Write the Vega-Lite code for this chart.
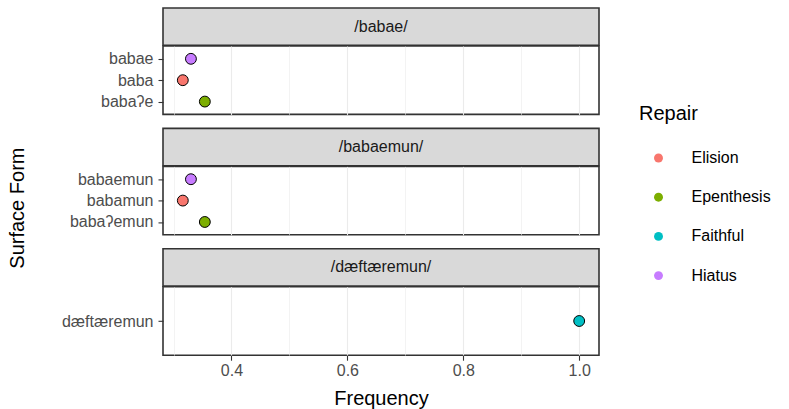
{
  "$schema": "https://vega.github.io/schema/vega-lite/v6.json",
  "background": "white",
  "padding": {"left": 8, "top": 7, "right": 5, "bottom": 5},
  "title": {"text": "Surface Form", "orient": "left", "anchor": "middle", "font": "Liberation Sans", "fontSize": 20, "fontWeight": "normal", "color": "#000000", "offset": 16},
  "datasets": {
    "rows": [
      {"Input": "/babae/", "Surface": "babae", "Repair": "Hiatus", "Frequency": 0.33},
      {"Input": "/babae/", "Surface": "baba", "Repair": "Elision", "Frequency": 0.316},
      {"Input": "/babae/", "Surface": "babaʔe", "Repair": "Epenthesis", "Frequency": 0.354},
      {"Input": "/babaemun/", "Surface": "babaemun", "Repair": "Hiatus", "Frequency": 0.33},
      {"Input": "/babaemun/", "Surface": "babamun", "Repair": "Elision", "Frequency": 0.316},
      {"Input": "/babaemun/", "Surface": "babaʔemun", "Repair": "Epenthesis", "Frequency": 0.354},
      {"Input": "/dæftæremun/", "Surface": "dæftæremun", "Repair": "Faithful", "Frequency": 1.0}
    ]
  },
  "data": {"name": "rows"},
  "spacing": 11.4,
  "vconcat": [
    {
      "spacing": 0,
      "bounds": "flush",
      "vconcat": [
        {
          "width": 436, "height": 37.3,
          "view": {"fill": "#d9d9d9", "stroke": "#333333", "strokeWidth": 1.6},
          "transform": [{"filter": "datum.Input === '/babae/'"}, {"aggregate": [], "groupby": ["Input"]}],
          "mark": {"type": "text", "fontSize": 16, "color": "#1a1a1a", "font": "Liberation Sans", "baseline": "middle", "align": "center"},
          "encoding": {"text": {"field": "Input"}}
        },
        {
          "width": 436, "height": 68.4,
          "transform": [{"filter": "datum.Input === '/babae/'"}],
          "mark": {"type": "point", "filled": true, "stroke": "black", "strokeWidth": 1, "size": 118, "opacity": 1},
          "encoding": {
            "x": {"field": "Frequency", "type": "quantitative", "scale": {"domain": [0.2818, 1.0342], "nice": false, "zero": false},
              "axis": {"values": [0.3, 0.4, 0.5, 0.6, 0.7, 0.8, 0.9, 1.0], "labels": false, "ticks": false, "domain": false, "title": null,
                "gridWidth": {"condition": {"test": "round(datum.value*10)%2==1", "value": 0.6}, "value": 1.1}}},
            "y": {"field": "Surface", "type": "nominal", "sort": ["babae", "baba", "babaʔe"], "scale": {"type": "point", "padding": 0.6}, "axis": {"title": null}},
            "fill": {"field": "Repair", "type": "nominal", "scale": {"domain": ["Elision", "Epenthesis", "Faithful", "Hiatus"], "range": ["#F8766D", "#7CAE00", "#00BFC4", "#C77CFF"]},
              "legend": {"title": "Repair", "orient": "none", "legendX": 476, "legendY": 96}}
          }
        }
      ]
    },
    {
      "spacing": 0,
      "bounds": "flush",
      "vconcat": [
        {
          "width": 436, "height": 37.3,
          "view": {"fill": "#d9d9d9", "stroke": "#333333", "strokeWidth": 1.6},
          "transform": [{"filter": "datum.Input === '/babaemun/'"}, {"aggregate": [], "groupby": ["Input"]}],
          "mark": {"type": "text", "fontSize": 16, "color": "#1a1a1a", "font": "Liberation Sans", "baseline": "middle", "align": "center"},
          "encoding": {"text": {"field": "Input"}}
        },
        {
          "width": 436, "height": 68.4,
          "transform": [{"filter": "datum.Input === '/babaemun/'"}],
          "mark": {"type": "point", "filled": true, "stroke": "black", "strokeWidth": 1, "size": 118, "opacity": 1},
          "encoding": {
            "x": {"field": "Frequency", "type": "quantitative", "scale": {"domain": [0.2818, 1.0342], "nice": false, "zero": false},
              "axis": {"values": [0.3, 0.4, 0.5, 0.6, 0.7, 0.8, 0.9, 1.0], "labels": false, "ticks": false, "domain": false, "title": null,
                "gridWidth": {"condition": {"test": "round(datum.value*10)%2==1", "value": 0.6}, "value": 1.1}}},
            "y": {"field": "Surface", "type": "nominal", "sort": ["babaemun", "babamun", "babaʔemun"], "scale": {"type": "point", "padding": 0.6}, "axis": {"title": null}},
            "fill": {"field": "Repair", "type": "nominal", "scale": {"domain": ["Elision", "Epenthesis", "Faithful", "Hiatus"], "range": ["#F8766D", "#7CAE00", "#00BFC4", "#C77CFF"]},
              "legend": {"title": "Repair", "orient": "none", "legendX": 476, "legendY": 96}}
          }
        }
      ]
    },
    {
      "spacing": 0,
      "bounds": "flush",
      "vconcat": [
        {
          "width": 436, "height": 37.3,
          "view": {"fill": "#d9d9d9", "stroke": "#333333", "strokeWidth": 1.6},
          "transform": [{"filter": "datum.Input === '/dæftæremun/'"}, {"aggregate": [], "groupby": ["Input"]}],
          "mark": {"type": "text", "fontSize": 16, "color": "#1a1a1a", "font": "Liberation Sans", "baseline": "middle", "align": "center"},
          "encoding": {"text": {"field": "Input"}}
        },
        {
          "width": 436, "height": 68.4,
          "transform": [{"filter": "datum.Input === '/dæftæremun/'"}],
          "mark": {"type": "point", "filled": true, "stroke": "black", "strokeWidth": 1, "size": 118, "opacity": 1},
          "encoding": {
            "x": {"field": "Frequency", "type": "quantitative", "scale": {"domain": [0.2818, 1.0342], "nice": false, "zero": false},
              "axis": {"values": [0.3, 0.4, 0.5, 0.6, 0.7, 0.8, 0.9, 1.0], "title": "Frequency", "domain": false,
                "labelExpr": "round(datum.value*10)%2==1 ? '' : format(datum.value, '.1f')",
                "tickOpacity": {"condition": {"test": "round(datum.value*10)%2==1", "value": 0}, "value": 1},
                "gridWidth": {"condition": {"test": "round(datum.value*10)%2==1", "value": 0.6}, "value": 1.1}}},
            "y": {"field": "Surface", "type": "nominal", "sort": ["dæftæremun"], "scale": {"type": "point", "padding": 0.6}, "axis": {"title": null}},
            "fill": {"field": "Repair", "type": "nominal", "scale": {"domain": ["Elision", "Epenthesis", "Faithful", "Hiatus"], "range": ["#F8766D", "#7CAE00", "#00BFC4", "#C77CFF"]},
              "legend": {"title": "Repair", "orient": "none", "legendX": 476, "legendY": 96}}
          }
        }
      ]
    }
  ],
  "resolve": {"scale": {"y": "independent"}},
  "config": {
    "font": "Liberation Sans",
    "view": {"stroke": "#333333", "strokeWidth": 1.6},
    "axis": {
      "gridColor": "#ebebeb",
      "labelFont": "Liberation Sans", "labelFontSize": 16, "labelColor": "#4d4d4d",
      "titleFont": "Liberation Sans", "titleFontSize": 20, "titleColor": "#000000", "titleFontWeight": "normal",
      "tickColor": "#333333", "tickSize": 5, "tickWidth": 1.1, "labelPadding": 2
    },
    "axisY": {"minExtent": 118, "maxExtent": 118, "domain": false, "labelPadding": 5},
    "axisX": {"titlePadding": 10},
    "legend": {
      "titleFont": "Liberation Sans", "titleFontSize": 20, "titleFontWeight": "normal", "titleColor": "#000000",
      "labelFont": "Liberation Sans", "labelFontSize": 16, "labelColor": "#000000",
      "symbolType": "circle", "symbolSize": 80, "symbolStrokeWidth": 0, "symbolOpacity": 1,
      "rowPadding": 23.2, "titlePadding": 26, "labelOffset": 25, "symbolOffset": 11.5
    }
  }
}
